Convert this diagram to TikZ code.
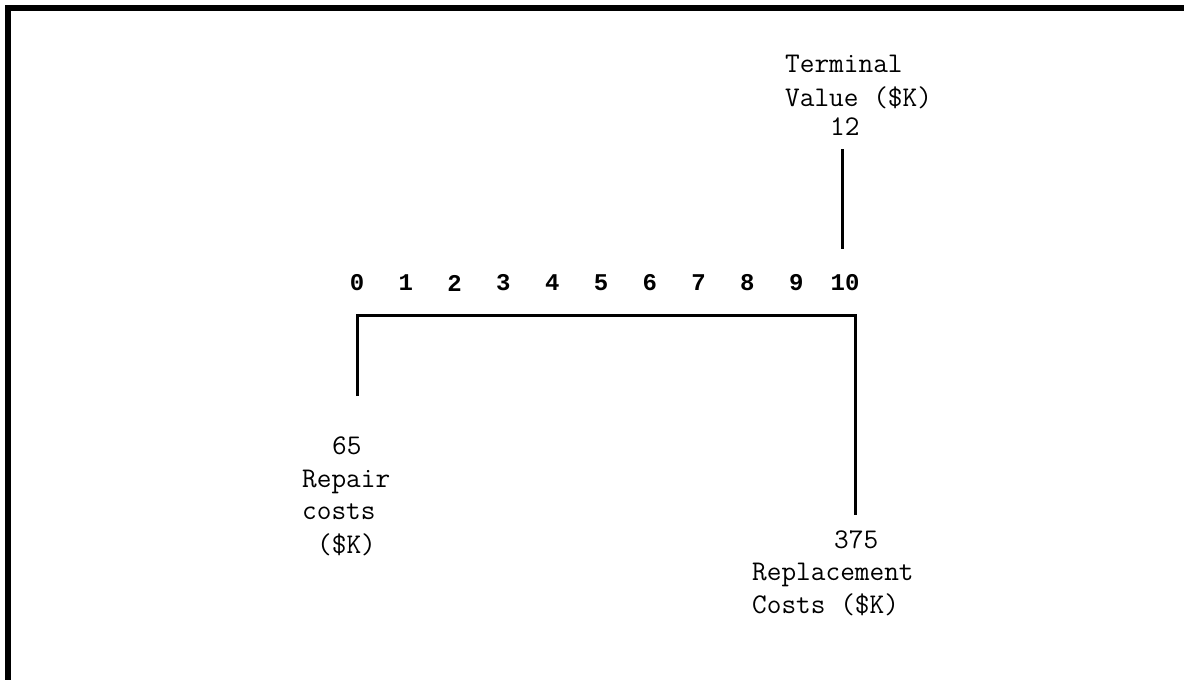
\documentclass[tikz,border=0pt]{standalone}
\usepackage{fontspec}
\newfontfamily\axisfont{Liberation Mono}
\begin{document}
\begin{tikzpicture}[x=1pt,y=-1pt,
  lbl/.style={font=\ttfamily\fontsize{28.5}{32}\selectfont, inner sep=0pt, align=left, anchor=base west},
  num/.style={font=\axisfont\bfseries\fontsize{24}{26}\selectfont, inner sep=0pt},
  wire/.style={line width=3pt}]
\useasboundingbox (0,0) rectangle (1184,680);
% frame along the top and left edges
\fill (5,5) rectangle (1184,11);
\fill (5,5) rectangle (11,680);
% time axis: periods 0..10
\foreach \i in {0,...,10}
  \node[num] (d\i) at ({357+48.8*\i},283) {\i};
% cash-flow labels (anchored at the baseline of their last line)
\node[lbl] (tv) at (785,135) {Terminal\\[2pt]Value (\$K)\\[-3pt]\hspace*{45pt}12};
\node[lbl] (rc) at (302,553) {\hspace*{30pt}65\\[1pt]Repair\\costs\\[2pt]\hspace*{15pt}(\$K)};
\node[lbl] (rp) at (752,613) {\hspace*{82pt}375\\Replacement\\[1pt]Costs (\$K)};
% bracket under the axis and the terminal value stem
\coordinate (bl) at (357,396);
\coordinate (tl) at (357,315.5);
\coordinate (tr) at (855,315.5);
\coordinate (br) at (855,515);
\coordinate (vt) at (842,149);
\coordinate (vb) at (842,249);
\draw[wire] (bl) -- (tl) -- (tr) -- (br);
\draw[wire] (vt) -- (vb);
\end{tikzpicture}
\end{document}
